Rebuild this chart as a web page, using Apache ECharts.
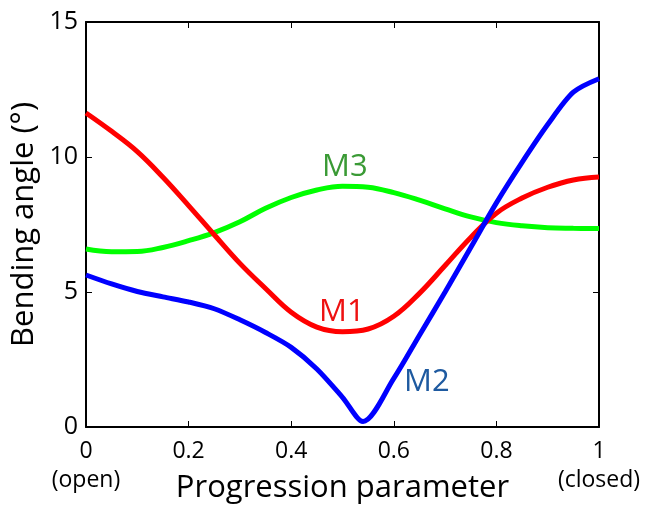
<!DOCTYPE html>
<html><head><meta charset="utf-8">
<script src="https://cdn.jsdelivr.net/npm/echarts@6/dist/echarts.min.js"></script>
<style>html,body{margin:0;padding:0;background:#fff}#c{width:653px;height:505px}</style>
</head><body><div id="c"></div>
<script>
const xM1 = [0,0.05,0.1,0.15,0.2,0.25,0.3,0.35,0.4,0.45,0.5,0.55,0.6,0.65,0.7,0.75,0.8,0.85,0.9,0.95,1];
const m1  = [11.63,10.95,10.2,9.25,8.2,7.12,6.06,5.13,4.25,3.7,3.53,3.63,4.1,4.95,5.98,7.02,7.92,8.48,8.88,9.15,9.26];
const xM2 = [0,0.05,0.1,0.15,0.2,0.25,0.3,0.35,0.4,0.45,0.5,0.54,0.6,0.65,0.7,0.75,0.8,0.85,0.9,0.95,1];
const m2  = [5.63,5.3,5.02,4.82,4.63,4.38,3.97,3.5,2.95,2.15,1.1,0.2,1.8,3.4,5.0,6.65,8.3,9.8,11.2,12.4,12.9];
const xM3 = [0,0.05,0.1,0.15,0.2,0.25,0.3,0.35,0.4,0.45,0.5,0.55,0.6,0.65,0.7,0.75,0.8,0.85,0.9,0.95,1];
const m3  = [6.59,6.49,6.5,6.65,6.9,7.2,7.6,8.1,8.5,8.78,8.92,8.88,8.68,8.4,8.08,7.78,7.57,7.45,7.38,7.36,7.35];
const xTicks = [0,0.2,0.4,0.6,0.8,1];
const xTickLabels = ['0\n(open)','0.2','0.4','0.6','0.8','1\n(closed)'];
const yTicks = [0,5,10,15];

const FONT = 'Open Sans';
const chart = echarts.init(document.getElementById('c'));
const pairs = (xs, ys) => xs.map((x,i)=>[x, ys[i]]);
const axisCommon = {
  min:0, axisLine:{show:true, onZero:false, lineStyle:{color:'#000', width:2}},
  axisTick:{show:true, inside:true, length:6, lineStyle:{color:'#000', width:1}},
  splitLine:{show:false}
};
chart.setOption({
  animation:false,
  grid:{left:86, right:54, top:22, bottom:78, containLabel:false, outerBoundsMode:'none'},
  xAxis:[
    Object.assign({}, axisCommon, {type:'value', position:'bottom', max:1, interval:0.2,
      name:'Progression parameter', nameLocation:'middle', nameGap:46, nameMoveOverlap:false,
      nameTextStyle:{fontFamily:FONT, fontSize:31, color:'#000'},
      axisLabel:{fontFamily:FONT, fontSize:23, color:'#000', margin:10, lineHeight:29,
        formatter:(v)=>{const i=xTicks.findIndex(t=>Math.abs(t-v)<1e-6); return i>=0?xTickLabels[i]:'';}}}),
    Object.assign({}, axisCommon, {type:'value', position:'top', max:1, interval:0.2, axisLabel:{show:false}})
  ],
  yAxis:[
    Object.assign({}, axisCommon, {type:'value', position:'left', max:15, interval:5,
      name:'Bending angle (°)', nameLocation:'middle', nameGap:46, nameRotate:90, nameMoveOverlap:false,
      nameTextStyle:{fontFamily:FONT, fontSize:31, color:'#000'},
      axisLabel:{fontFamily:FONT, fontSize:25, color:'#000', margin:8}}),
    Object.assign({}, axisCommon, {type:'value', position:'right', max:15, interval:5, axisLabel:{show:false}})
  ],
  series:[
    {name:'M3', type:'line', data:pairs(xM3,m3), smooth:0.4, symbol:'none', lineStyle:{color:'#00ff00', width:5}, z:2},
    {name:'M1', type:'line', data:pairs(xM1,m1), smooth:0.4, symbol:'none', lineStyle:{color:'#ff0000', width:5}, z:3},
    {name:'M2', type:'line', data:pairs(xM2,m2), smooth:0.3, symbol:'none', lineStyle:{color:'#0000ff', width:5}, z:4}
  ],
  graphic:[
    {type:'text', left:322, top:152, style:{text:'M3', fontFamily:FONT, fontSize:31, fill:'#3a9a35'}},
    {type:'text', left:319, top:297, style:{text:'M1', fontFamily:FONT, fontSize:31, fill:'#ee1111'}},
    {type:'text', left:404, top:367, style:{text:'M2', fontFamily:FONT, fontSize:31, fill:'#1e5aa0'}}
  ]
});
</script></body></html>
